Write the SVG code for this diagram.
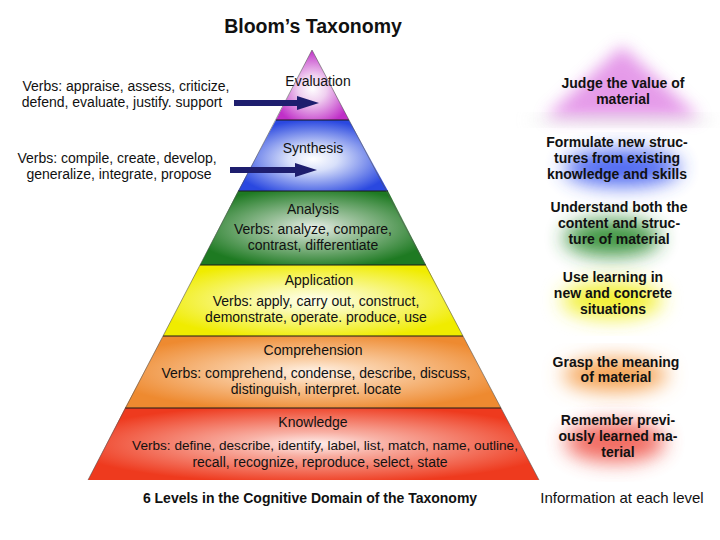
<svg xmlns="http://www.w3.org/2000/svg" width="720" height="540" viewBox="0 0 720 540">
<style>
text{font-family:"Liberation Sans",Arial,sans-serif;fill:#111;}
.t{font-size:14px;text-anchor:middle;}
.b{font-size:14px;font-weight:bold;text-anchor:middle;}
.sep{stroke:#1a1a1a;stroke-width:1.2;}
.arr{fill:#1e1e6e;}
</style>
<defs>
<radialGradient id="gE" cx="50%" cy="55%" r="55%"><stop offset="0" stop-color="#fff"/><stop offset="0.35" stop-color="#f0d0f0"/><stop offset="1" stop-color="#c030c8"/></radialGradient>
<radialGradient id="gS" cx="50%" cy="55%" r="55%"><stop offset="0" stop-color="#fff"/><stop offset="0.3" stop-color="#d8e0fa"/><stop offset="1" stop-color="#2a48e0"/></radialGradient>
<radialGradient id="gA" cx="50%" cy="50%" r="55%"><stop offset="0" stop-color="#e8efe8"/><stop offset="0.3" stop-color="#a8c8a8"/><stop offset="1" stop-color="#1e7a22"/></radialGradient>
<radialGradient id="gP" cx="50%" cy="50%" r="55%"><stop offset="0" stop-color="#fffff0"/><stop offset="0.3" stop-color="#fafab0"/><stop offset="1" stop-color="#f0ec00"/></radialGradient>
<radialGradient id="gC" cx="50%" cy="50%" r="55%"><stop offset="0" stop-color="#fff4ea"/><stop offset="0.3" stop-color="#fad0a8"/><stop offset="1" stop-color="#ee8a30"/></radialGradient>
<radialGradient id="gK" cx="50%" cy="50%" r="55%"><stop offset="0" stop-color="#fff0ee"/><stop offset="0.3" stop-color="#f8b0a4"/><stop offset="1" stop-color="#ee3a1e"/></radialGradient>
<filter id="blur" x="-50%" y="-50%" width="200%" height="200%"><feGaussianBlur stdDeviation="10"/></filter>
<filter id="blur2" x="-50%" y="-50%" width="200%" height="200%"><feGaussianBlur stdDeviation="8"/></filter>
</defs>
<rect width="720" height="540" fill="#fff"/>

<text x="313" y="33" style="font-size:19.5px;font-weight:bold;text-anchor:middle">Bloom’s Taxonomy</text>

<g id="evaluation">
<polygon points="312,50 276,120 349,120" fill="url(#gE)"/>
<text class="t" x="318" y="86">Evaluation</text>
</g>
<g id="synthesis">
<polygon points="276,120 349,120 388,191 238,191" fill="url(#gS)"/>
<text class="t" x="313" y="153">Synthesis</text>
</g>
<g id="analysis">
<polygon points="238,191 388,191 426,265 200,265" fill="url(#gA)"/>
<text class="t" x="313" y="214">Analysis</text>
<text class="t" x="313" y="234">Verbs: analyze, compare,</text>
<text class="t" x="313" y="250">contrast, differentiate</text>
</g>
<g id="application">
<polygon points="200,265 426,265 463,336 163,336" fill="url(#gP)"/>
<text class="t" x="319" y="285">Application</text>
<text class="t" x="316" y="306">Verbs: apply, carry out, construct,</text>
<text class="t" x="316" y="322">demonstrate, operate. produce, use</text>
</g>
<g id="comprehension">
<polygon points="163,336 463,336 501,408 125,408" fill="url(#gC)"/>
<text class="t" x="313" y="355">Comprehension</text>
<text class="t" x="316" y="378">Verbs: comprehend, condense, describe, discuss,</text>
<text class="t" x="316" y="394">distinguish, interpret. locate</text>
</g>
<g id="knowledge">
<polygon points="125,408 501,408 539,480 88,480" fill="url(#gK)"/>
<text class="t" x="313" y="427">Knowledge</text>
<text class="t" x="325" y="450" style="font-size:13.6px">Verbs: define, describe, identify, label, list, match, name, outline,</text>
<text class="t" x="320" y="467">recall, recognize, reproduce, select, state</text>
</g>
<g id="separators">
<line class="sep" x1="276" y1="120" x2="349" y2="120"/>
<line class="sep" x1="238" y1="191" x2="388" y2="191"/>
<line class="sep" x1="200" y1="265" x2="426" y2="265"/>
<line class="sep" x1="163" y1="336" x2="463" y2="336"/>
<line class="sep" x1="125" y1="408" x2="501" y2="408"/>
<polyline points="88,480 312,50 539,480" fill="none" stroke="#555" stroke-width="0.6"/>
</g>

<g id="verbs-evaluation">
<text class="t" x="126" y="91">Verbs: appraise, assess, criticize,</text>
<text class="t" x="122" y="107">defend, evaluate, justify. support</text>
</g>
<g id="verbs-synthesis">
<text class="t" x="117" y="163">Verbs: compile, create, develop,</text>
<text class="t" x="119" y="179">generalize, integrate, propose</text>
</g>
<g id="connectors">
<polygon class="arr" points="234,100 297,100 297,96 319,103 297,110 297,106 234,106"/>
<polygon class="arr" points="230,167 295,167 295,163 317,170 295,177 295,173 230,173"/>
</g>

<g id="glows">
<polygon points="622,46 545,118 700,118" fill="#d048d8" opacity="0.55" filter="url(#blur2)"/>
<ellipse cx="622" cy="120" rx="95" ry="4" fill="#ccc" opacity="0.5" filter="url(#blur2)"/>
<ellipse cx="622" cy="168" rx="58" ry="18" fill="#3a58f0" opacity="0.9" filter="url(#blur)"/>
<ellipse cx="612" cy="238" rx="48" ry="18" fill="#2a8a2e" opacity="0.9" filter="url(#blur)"/>
<ellipse cx="612" cy="300" rx="50" ry="18" fill="#f2f030" filter="url(#blur)"/>
<ellipse cx="615" cy="375" rx="52" ry="16" fill="#f5a050" filter="url(#blur)"/>
<ellipse cx="615" cy="442" rx="50" ry="20" fill="#f05a50" opacity="0.9" filter="url(#blur)"/>
</g>
<g id="info-evaluation">
<text class="b" x="623" y="88">Judge the value of</text>
<text class="b" x="623" y="104">material</text>
</g>
<g id="info-synthesis">
<text class="b" x="617" y="147">Formulate new struc-</text>
<text class="b" x="617" y="163">tures from existing</text>
<text class="b" x="617" y="179">knowledge and skills</text>
</g>
<g id="info-analysis">
<text class="b" x="619" y="212">Understand both the</text>
<text class="b" x="619" y="228">content and struc-</text>
<text class="b" x="619" y="244">ture of material</text>
</g>
<g id="info-application">
<text class="b" x="613" y="282">Use learning in</text>
<text class="b" x="613" y="298">new and concrete</text>
<text class="b" x="613" y="314">situations</text>
</g>
<g id="info-comprehension">
<text class="b" x="616" y="367">Grasp the meaning</text>
<text class="b" x="616" y="382">of material</text>
</g>
<g id="info-knowledge">
<text class="b" x="618" y="425">Remember previ-</text>
<text class="b" x="618" y="441">ously learned ma-</text>
<text class="b" x="618" y="457">terial</text>
</g>
<text class="b" x="310" y="503">6 Levels in the Cognitive Domain of the Taxonomy</text>
<text x="622" y="503" style="font-size:15px;text-anchor:middle">Information at each level</text>
</svg>
